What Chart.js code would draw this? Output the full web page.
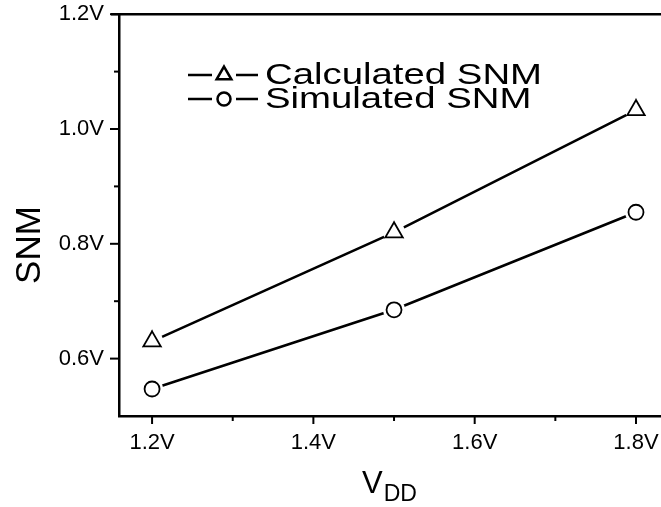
<!DOCTYPE html>
<html>
<head>
<meta charset="utf-8">
<script src="https://cdn.jsdelivr.net/npm/chart.js@4"></script>
<style>
  html, body { margin: 0; padding: 0; background: #fff; overflow: hidden; }
  canvas { display: block; }
</style>
</head>
<body>
<canvas id="graphiqueSnm" width="661" height="507"></canvas>
<script>
// Données
const VDD = [1.2, 1.5, 1.8];
const SNM_CALCULE = [0.63, 0.82, 1.033];
const SNM_SIMULE = [0.547, 0.685, 0.855];
const LEGENDE = ['Calculated SNM', 'Simulated SNM'];
const TICKS_X = [1.2, 1.3, 1.4, 1.5, 1.6, 1.7, 1.8];
const TICKS_Y = [0.6, 0.7, 0.8, 0.9, 1.0, 1.1, 1.2];
const MAJEURS_X = [1.2, 1.4, 1.6, 1.8];
const MAJEURS_Y = [0.6, 0.8, 1.0, 1.2];

const POLICE = "'Liberation Sans', Arial, sans-serif";
const estMajeur = (liste, v) => liste.some(m => Math.abs(m - v) < 1e-6);

// Graduations, bord du haut, titres et légende dessinés à la main
const pluginDecor = {
    id: 'decor',
    afterDatasetsDraw(chart) {
        const ctx = chart.ctx;
        // halo blanc autour des marqueurs (les traits ne touchent pas les symboles)
        chart.data.datasets.forEach((ds, i) => {
            chart.getDatasetMeta(i).data.forEach(pt => {
                ctx.save();
                ctx.fillStyle = '#fff';
                ctx.beginPath();
                ctx.arc(pt.x, pt.y, 11, 0, Math.PI * 2);
                ctx.fill();
                ctx.restore();
                pt.draw(ctx, chart.chartArea);
            });
        });
    },
    afterDraw(chart) {
        const ctx = chart.ctx;
        const { left, right, top, bottom } = chart.chartArea;
        const sx = chart.scales.x, sy = chart.scales.y;
        ctx.save();
        ctx.strokeStyle = '#000';
        ctx.lineWidth = 2.5;
        ctx.beginPath();
        ctx.moveTo(left - 8, top);
        ctx.lineTo(right, top);
        ctx.stroke();

        ctx.lineWidth = 2;
        TICKS_X.forEach(v => {
            const x = sx.getPixelForValue(v);
            const l = estMajeur(MAJEURS_X, v) ? 8 : 5;
            ctx.beginPath();
            ctx.moveTo(x, bottom);
            ctx.lineTo(x, bottom + l);
            ctx.stroke();
        });
        TICKS_Y.forEach(v => {
            const y = sy.getPixelForValue(v);
            const l = estMajeur(MAJEURS_Y, v) ? 9 : 5;
            ctx.beginPath();
            ctx.moveTo(left, y);
            ctx.lineTo(left - l, y);
            ctx.stroke();
        });

        // titre vertical
        ctx.fillStyle = '#000';
        ctx.save();
        ctx.translate(30, 245);
        ctx.rotate(-Math.PI / 2);
        ctx.font = '35px ' + POLICE;
        ctx.textAlign = 'center';
        ctx.textBaseline = 'middle';
        ctx.fillText('SNM', 0, 0);
        ctx.restore();

        // titre horizontal avec indice
        ctx.textAlign = 'left';
        ctx.textBaseline = 'alphabetic';
        ctx.font = '31px ' + POLICE;
        ctx.fillText('V', 362, 493);
        const lv = ctx.measureText('V').width;
        ctx.font = '23px ' + POLICE;
        ctx.fillText('DD', 362 + lv + 1, 501);

        // légende (texte un peu étiré, comme sur la figure)
        const styles = ['triangle', 'circle'];
        const rayons = [8.5, 6.5];
        ctx.font = '29px ' + POLICE;
        const etirement = 277 / ctx.measureText(LEGENDE[0]).width;
        LEGENDE.forEach((txt, i) => {
            const y = 75 + i * 24;
            ctx.lineWidth = 2.5;
            ctx.beginPath();
            ctx.moveTo(188, y); ctx.lineTo(212, y);
            ctx.moveTo(236, y); ctx.lineTo(258, y);
            ctx.stroke();
            ctx.fillStyle = '#fff';
            Chart.helpers.drawPoint(ctx, { pointStyle: styles[i], radius: rayons[i], borderWidth: 1.8 }, 224, y);
            ctx.fillStyle = '#000';
            ctx.textBaseline = 'middle';
            ctx.save();
            ctx.translate(265, y + 1);
            ctx.scale(etirement, 1);
            ctx.fillText(txt, 0, 0);
            ctx.restore();
        });
        ctx.restore();
    }
};

const jeuCommun = {
    borderColor: '#000',
    borderWidth: 2.6,
    pointBackgroundColor: '#fff',
    pointBorderColor: '#000',
    pointBorderWidth: 1.8,
    tension: 0
};

new Chart(document.getElementById('graphiqueSnm'), {
    type: 'line',
    data: {
        labels: VDD,
        datasets: [
            { ...jeuCommun, label: LEGENDE[0], data: VDD.map((x, i) => ({ x, y: SNM_CALCULE[i] })), pointStyle: 'triangle', pointRadius: 10 },
            { ...jeuCommun, label: LEGENDE[1], data: VDD.map((x, i) => ({ x, y: SNM_SIMULE[i] })), pointStyle: 'circle', pointRadius: 7.5 }
        ]
    },
    options: {
        responsive: false,
        animation: false,
        layout: { padding: 0, autoPadding: false },
        plugins: { legend: { display: false }, tooltip: { enabled: false } },
        scales: {
            x: {
                type: 'linear',
                min: 1.159,
                max: 1.831,
                afterBuildTicks: s => { s.ticks = MAJEURS_X.map(v => ({ value: v })); },
                afterFit: s => { s.height = 91; },
                grid: { display: true, drawOnChartArea: false, drawTicks: true, tickLength: 13, tickColor: 'rgba(0,0,0,0)' },
                border: { color: '#000', width: 2.5 },
                ticks: {
                    color: '#000',
                    padding: 1,
                    maxRotation: 0,
                    font: { family: POLICE, size: 22 },
                    callback: v => v.toFixed(1) + 'V'
                }
            },
            y: {
                min: 0.5,
                max: 1.2,
                afterBuildTicks: s => { s.ticks = MAJEURS_Y.map(v => ({ value: v })); },
                afterFit: s => { s.width = 119; },
                grid: { display: true, drawOnChartArea: false, drawTicks: true, tickLength: 14, tickColor: 'rgba(0,0,0,0)' },
                border: { color: '#000', width: 2.5 },
                ticks: {
                    color: '#000',
                    padding: 1,
                    font: { family: POLICE, size: 22 },
                    callback: v => v.toFixed(1) + 'V'
                }
            }
        }
    },
    plugins: [pluginDecor]
});
</script>
</body>
</html>
